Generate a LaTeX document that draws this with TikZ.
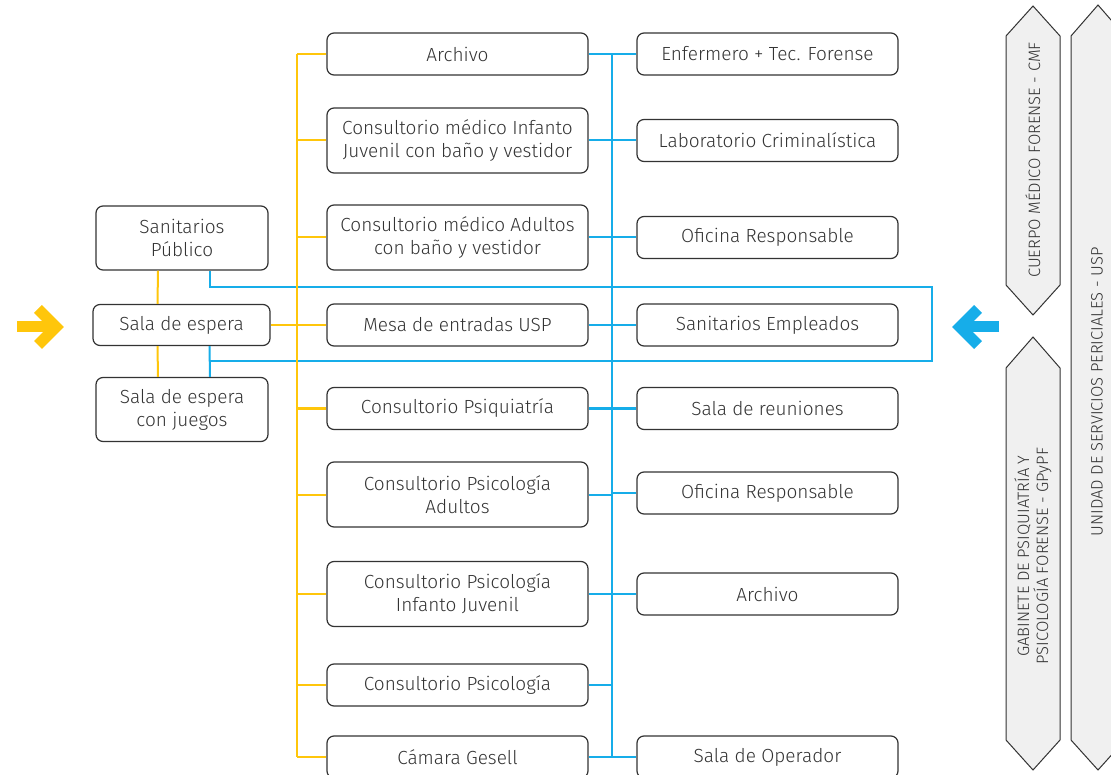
\documentclass[tikz,border=0pt]{standalone}
\usepackage{fontspec}
\setmainfont{Fira Sans Light}
\definecolor{yel}{HTML}{FFC60B}
\definecolor{blu}{HTML}{16ADE9}
\definecolor{boxline}{HTML}{333333}
\definecolor{txt}{HTML}{333333}
\definecolor{hexfill}{HTML}{F0F0F0}
\begin{document}
\begin{tikzpicture}[x=1pt,y=-1pt]
    \tikzstyle{box}=[draw=boxline, rounded corners=7pt, line width=1.2pt,
                            text=txt, align=center, inner sep=0pt,
                            font=\fontsize{19}{23}\selectfont]
    \tikzstyle{lbox}=[box, minimum width=172pt, minimum height=64pt]
    \tikzstyle{mbox}=[box, minimum width=261pt, minimum height=42pt]
    \tikzstyle{mbox2}=[box, minimum width=261pt, minimum height=65pt]
    \tikzstyle{yline}=[yel, line width=2pt]
    \tikzstyle{bline}=[blu, line width=2pt]
    \tikzstyle{hexa}=[draw=boxline, fill=hexfill, line width=1pt]
    \tikzstyle{hexlabel}=[text=txt, rotate=90, align=center,
                            font=\fontsize{16.5}{19}\selectfont]
    \clip (0,0) rectangle (1111,775);

    % left column
    \node[lbox] (sanpub) at (182,238) {Sanitarios\\Público};
    \node[box, minimum width=177pt, minimum height=41pt] (sala) at (181.5,325) {Sala de espera};
    \node[lbox] (juegos) at (182,409.5) {Sala de espera\\con juegos};

    % middle column
    \node[mbox] (arch) at (457.5,54) {Archivo};
    \node[mbox2] (cmij) at (457.5,140.5) {Consultorio médico Infanto\\Juvenil con baño y vestidor};
    \node[mbox2] (cmad) at (457.5,237.5) {Consultorio médico Adultos\\con baño y vestidor};
    \node[mbox] (mesa) at (457.5,325) {Mesa de entradas USP};
    \node[mbox] (psiq) at (457.5,408.5) {Consultorio Psiquiatría};
    \node[mbox2] (psad) at (457.5,494.5) {Consultorio Psicología\\Adultos};
    \node[mbox2] (psij) at (457.5,594) {Consultorio Psicología\\Infanto Juvenil};
    \node[mbox] (psic) at (457.5,685) {Consultorio Psicología};
    \node[mbox] (gesell) at (457.5,757) {Cámara Gesell};

    % right column
    \node[mbox] (enf) at (767.5,54) {Enfermero + Tec. Forense};
    \node[mbox] (lab) at (767.5,140.5) {Laboratorio Criminalística};
    \node[mbox] (ofi) at (767.5,237.5) {Oficina Responsable};
    \node[mbox] (sanem) at (767.5,325) {Sanitarios Empleados};
    \node[mbox] (reun) at (767.5,408.5) {Sala de reuniones};
    \node[mbox] (ofidos) at (767.5,493) {Oficina Responsable};
    \node[mbox] (archdos) at (767.5,594) {Archivo};
    \node[mbox] (oper) at (767.5,757) {Sala de Operador};

    \coordinate (ytop) at (297,54);
    \coordinate (ybot) at (297,757);
    \coordinate (btop) at (612,54);
    \coordinate (bbot) at (612,757);
    \coordinate (lt) at (210,287);
    \coordinate (rt) at (932,287);
    \coordinate (rb) at (932,361);
    \coordinate (lb) at (210,361);

    % blue
    \draw[bline] ([xshift=28pt]sanpub.south) -- (lt) -- (rt) -- (rb) -- (lb);
    \draw[bline] ([xshift=28pt]sala.south) -- ([xshift=28pt]juegos.north);
    \draw[bline] (btop) -- (bbot);
    \foreach \n in {arch,cmij,cmad,mesa,psiq,psad,psij,psic,gesell}
        \draw[bline] (\n.east) -- (\n.east -| btop);
    \foreach \n in {enf,lab,ofi,sanem,reun,ofidos,archdos,oper}
        \draw[bline] (\n.west) -- (\n.west -| btop);

    % yellow
    \draw[yline] (ytop) -- (ybot);
    \foreach \n in {arch,cmij,cmad,mesa,psiq,psad,psij,psic,gesell}
        \draw[yline] (\n.west) -- (\n.west -| ytop);
    \draw[yline] (sala.east) -- (sala.east -| ytop);
    \draw[yline] ([xshift=-24pt]sanpub.south) -- ([xshift=-24pt]sala.north);
    \draw[yline] ([xshift=-24pt]sala.south) -- ([xshift=-24pt]juegos.north);

    % arrows
    \draw[yel, line width=11pt] (17,327) -- (56,327);
    \draw[yel, line width=11pt] (38,309) -- (56,327) -- (38,345);
    \draw[blu, line width=11pt] (999,327) -- (960,327);
    \draw[blu, line width=11pt] (978,309) -- (960,327) -- (978,345);

    % side labels
    \draw[hexa] (1033,6) -- (1060,36) -- (1060,285) -- (1033,315) -- (1006,285) -- (1006,36) -- cycle;
    \draw[hexa] (1033,337) -- (1060,368) -- (1060,740) -- (1033,770) -- (1006,740) -- (1006,368) -- cycle;
    \draw[hexa] (1098,5) -- (1125,36) -- (1125,740) -- (1098,770) -- (1071,740) -- (1071,36) -- cycle;
    \node[hexlabel] (cmf) at (1033,160) {CUERPO MÉDICO FORENSE - CMF};
    \node[hexlabel] (gpypf) at (1033,556) {GABINETE DE PSIQUIATRÍA Y\\PSICOLOGÍA FORENSE - GPyPF};
    \node[hexlabel] (usp) at (1097,392) {UNIDAD DE SERVICIOS PERICIALES - USP};
\end{tikzpicture}
\end{document}
